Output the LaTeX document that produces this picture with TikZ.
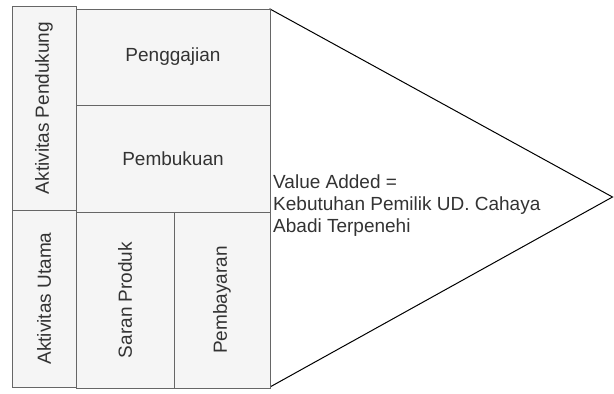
\documentclass[tikz,border=0pt]{standalone}
\usepackage{fontspec}
\setmainfont{Liberation Sans}
\definecolor{boxfill}{HTML}{F5F5F5}
\definecolor{boxline}{HTML}{666666}
\definecolor{boxtext}{HTML}{333333}

\begin{document}
\begin{tikzpicture}[x=1pt,y=-1pt,
        box/.style={shape=rectangle, draw=boxline, fill=boxfill, text=boxtext, inner sep=0pt, line width=0.9pt, font=\fontsize{19}{22}\selectfont},
        vbox/.style={box, rotate=90}]
    \useasboundingbox (0,0) rectangle (614,394);

    % value added
    \draw[line width=1pt, fill=white] (270,9) -- (612.5,197) -- (270,387) -- cycle;
    \node[anchor=west, align=left, inner sep=0pt, text=boxtext, font=\fontsize{19}{22}\selectfont] (value) at (273,205.5)
        {Value Added =\\Kebutuhan Pemilik UD. Cahaya\\Abadi Terpenehi};

    % kolom kiri
    \node[vbox, minimum width=204, minimum height=64] (pendukung) at (44,108) {Aktivitas Pendukung};
    \node[vbox, minimum width=177, minimum height=64] (utama) at (44,298.5) {Aktivitas Utama};

    % aktivitas
    \node[box, minimum width=194, minimum height=96] (gaji) at (173,57) {Penggajian};
    \node[box, minimum width=194, minimum height=107] (buku) at (173,158.5) {Pembukuan};
    \node[vbox, minimum width=176, minimum height=98] (saran) at (125,300) {Saran Produk};
    \node[vbox, minimum width=176, minimum height=96] (bayar) at (222,300) {Pembayaran};
\end{tikzpicture}
\end{document}
